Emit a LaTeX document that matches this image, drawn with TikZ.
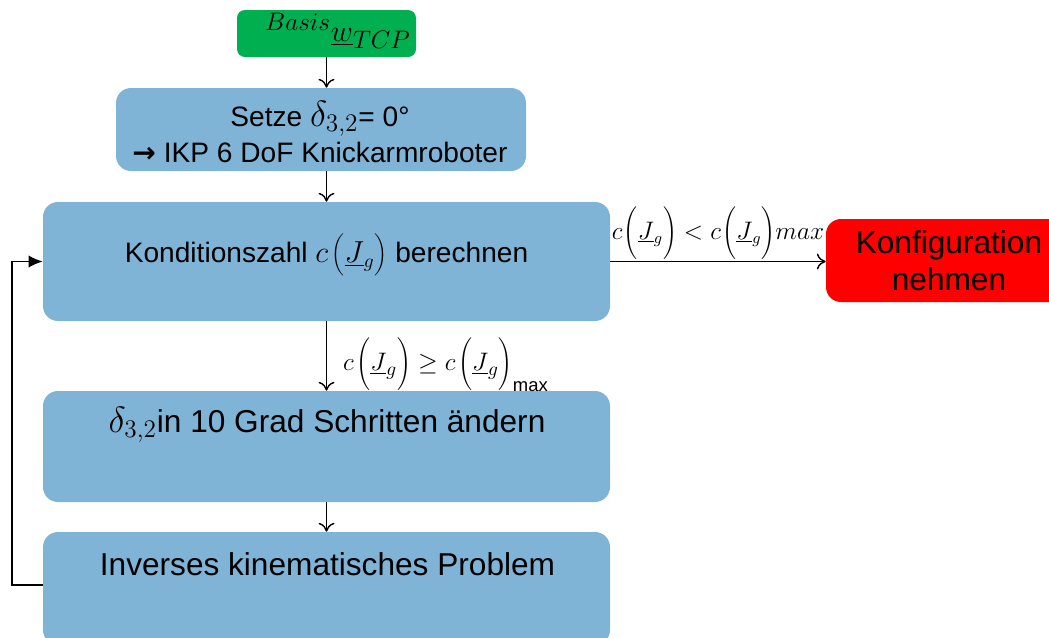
\documentclass[tikz,border=0pt]{standalone}
\usepackage{fontspec}
\setmainfont{Liberation Sans}
\newfontfamily\arrowfont{DejaVu Sans}
\usetikzlibrary{arrows.meta}
\definecolor{boxblue}{RGB}{128,180,215}
\definecolor{boxgreen}{RGB}{0,176,80}
\definecolor{boxred}{RGB}{255,0,0}
\begin{document}
\begin{tikzpicture}[x=0.02cm,y=-0.02cm,
  bluebox/.style={fill=boxblue, draw=none, rounded corners=0.3cm, inner sep=0pt},
  greenbox/.style={fill=boxgreen, draw=none, rounded corners=0.16cm, inner sep=0pt},
  redbox/.style={fill=boxred, draw=none, rounded corners=0.3cm, inner sep=0pt, align=center,
    font=\fontsize{18}{21}\selectfont},
  txtA/.style={font=\fontsize{16}{19}\selectfont, align=center, inner sep=0pt},
  txtB/.style={font=\fontsize{18}{21}\selectfont, align=center, inner sep=0pt},
  conn/.style={draw=black, line width=0.8pt, -{To[length=5pt,width=9pt]}},
  back/.style={draw=black, line width=0.8pt, -{Latex[length=8pt,width=7pt]}},
  lbl/.style={font=\fontsize{13.5}{16}\selectfont, inner sep=1pt}
]
\clip (0,0) rectangle (1049,637);
\fill[white] (0,0) rectangle (1049,637);

\node[greenbox, minimum width={179*0.02cm}, minimum height={47*0.02cm}] (g) at (326.5,33.5) {};
\node[font=\fontsize{19}{22}\selectfont, inner sep=0pt] (gt) at (338,31) {$^{Basis}\underline{w}_{TCP}$};

\node[bluebox, minimum width={410*0.02cm}, minimum height={83*0.02cm}] (b1) at (321,129.5) {};
\node[txtA] (b1t) at (320,132) {Setze {\fontsize{20}{20}\selectfont$\delta_{3,2}$}= 0°\\[2pt]{\arrowfont\bfseries →} IKP 6 DoF Knickarmroboter};

\node[bluebox, minimum width={567*0.02cm}, minimum height={119*0.02cm}] (b2) at (326.5,261.5) {};
\node[txtA] (b2t) at (326.5,254) {Konditionszahl $c\mkern2mu\Biggl(\underline{J}_g\Biggr)$ berechnen};

\node[bluebox, minimum width={567*0.02cm}, minimum height={111*0.02cm}] (b3) at (326.5,446.5) {};
\node[txtB] (b3t) at (327,425) {{\fontsize{21}{21}\selectfont$\delta_{3,2}$}in 10 Grad Schritten ändern};

\node[bluebox, minimum width={567*0.02cm}, minimum height={113*0.02cm}] (b4) at (326.5,588.5) {};
\node[txtB] (b4t) at (327.5,564) {Inverses kinematisches Problem};

\node[redbox, minimum width={246*0.02cm}, minimum height={83*0.02cm}] (r) at (949,260.5) {Konfiguration\\nehmen};

\draw[conn] (g.south) -- (g.south |- b1.north);
\draw[conn] (g.south |- b1.south) -- (g.south |- b2.north);
\draw[conn] (g.south |- b2.south) -- (g.south |- b3.north)
  node[lbl, pos=0.63, right, xshift=8pt, font=\fontsize{15.5}{19}\selectfont] {$c\mkern2mu\Biggl(\underline{J}_g\Biggr) \geq c\mkern2mu\Biggl(\underline{J}_g\Biggr)_{\hbox{\fontsize{10.5}{12}\selectfont max}}$};
\draw[conn] (g.south |- b3.south) -- (g.south |- b4.north);
\draw[conn] (b2.east) -- (b2.east -| r.west)
  node[lbl, midway, above] {$c\mkern1mu\Biggl(\underline{J}_g\Biggr) < c\mkern1mu\Biggl(\underline{J}_g\Biggr) max$};
\draw[back] (b4.west |- 0,585) -- (12,585) |- (b2.west);
\end{tikzpicture}
\end{document}
